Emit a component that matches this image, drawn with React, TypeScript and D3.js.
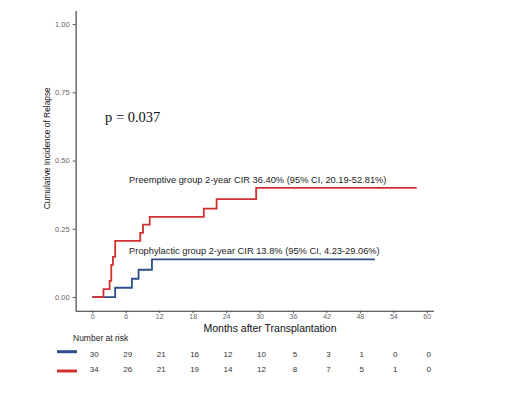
import React, { useEffect, useRef } from "react";
import * as d3 from "d3";

// step points: [months, cumulative incidence]
const preemptive: [number, number][] = [
  [0, 0], [2.0, 0.029], [3.1, 0.059], [3.4, 0.118], [3.7, 0.147], [4.1, 0.206],
  [8.6, 0.235], [9.1, 0.265], [10.3, 0.294], [20.0, 0.324], [22.3, 0.359],
  [29.4, 0.40], [58.2, 0.40],
];
const prophylactic: [number, number][] = [
  [0, 0], [4.1, 0.034], [7.1, 0.067], [8.3, 0.10], [10.7, 0.138], [50.7, 0.138],
];

const monthTicks = [0, 6, 12, 18, 24, 30, 36, 42, 48, 54, 60];
const yTicks = [0, 0.25, 0.5, 0.75, 1];
const riskProphylactic = [30, 29, 21, 16, 12, 10, 5, 3, 1, 0, 0];
const riskPreemptive = [34, 26, 21, 19, 14, 12, 8, 7, 5, 1, 0];

const RED = "#D2302F";
const BLUE = "#2B4F86";

const x = d3.scaleLinear().domain([-3, 61.2]).range([75.6, 433.4]);
const y = d3.scaleLinear().domain([-0.05, 1.05]).range([310.7, 10.4]);

const line = d3
  .line<[number, number]>()
  .x((d) => x(d[0]))
  .y((d) => y(d[1]))
  .curve(d3.curveStepAfter);

export default function App() {
  const xRef = useRef<SVGGElement | null>(null);
  const yRef = useRef<SVGGElement | null>(null);

  useEffect(() => {
    const xa = d3.select(xRef.current);
    xa.call(d3.axisBottom(x).tickValues(monthTicks).tickSize(2.5).tickPadding(0.5).tickSizeOuter(0));
    const ya = d3.select(yRef.current);
    ya.call(
      d3.axisLeft(y).tickValues(yTicks).tickFormat(d3.format(".2f")).tickSize(3).tickSizeOuter(0)
    );
    [xa, ya].forEach((g) => {
      g.selectAll("path.domain").attr("stroke", "#333").attr("stroke-width", 1.1);
      g.selectAll(".tick line").attr("stroke", "#555");
      g.selectAll(".tick text")
        .attr("fill", "#666")
        .style("font-family", "Liberation Sans, Arial, sans-serif")
        .style("font-size", "7.5px");
    });
    xa.selectAll(".tick text").style("font-size", "7px");
  }, []);

  const sans = "Liberation Sans, Arial, sans-serif";

  return (
    <svg
      width={522}
      height={404}
      style={{ position: "absolute", left: 0, top: 0, background: "#fff" }}
    >
      <g ref={xRef} transform={`translate(0,${y(-0.05)})`} />
      <g ref={yRef} transform={`translate(${x(-3)},0)`} />

      <path d={line(prophylactic) ?? ""} fill="none" stroke={BLUE} strokeWidth={1.8} />
      <path d={line(preemptive) ?? ""} fill="none" stroke={RED} strokeWidth={1.8} />

      <text
        transform={`translate(50,${y(0.545)}) rotate(-90)`}
        textAnchor="middle"
        fontFamily={sans}
        fontSize={9.5}
        textLength={122}
        lengthAdjust="spacingAndGlyphs"
        fill="#111"
      >
        Cumulative Incidence of Relapse
      </text>
      <text x={270} y={332} textAnchor="middle" fontFamily={sans} fontSize={10.5} fill="#111">
        Months after Transplantation
      </text>

      <text x={105} y={122} fontFamily="Liberation Serif, Times New Roman, serif" fontSize={14.5} fill="#111">
        p = 0.037
      </text>

      <text x={x(6.6)} y={y(0.43) + 3} fontFamily={sans} fontSize={9.3} fill="#222">
        Preemptive group 2-year CIR 36.40% (95% CI, 20.19-52.81%)
      </text>
      <text x={x(6.6)} y={y(0.17) + 3} fontFamily={sans} fontSize={9.3} fill="#222">
        Prophylactic group 2-year CIR 13.8% (95% CI, 4.23-29.06%)
      </text>

      <text x={73} y={341} fontFamily={sans} fontSize={8.5} fill="#222">
        Number at risk
      </text>
      <line x1={57} x2={77} y1={351.7} y2={351.7} stroke={BLUE} strokeWidth={3} />
      <line x1={57} x2={77} y1={371} y2={371} stroke={RED} strokeWidth={3} />
      {riskProphylactic.map((n, i) => (
        <text
          key={`b${i}`}
          x={x(monthTicks[i]) + 2}
          y={357}
          textAnchor="middle"
          fontFamily={sans}
          fontSize={8}
          fill="#333"
        >
          {n}
        </text>
      ))}
      {riskPreemptive.map((n, i) => (
        <text
          key={`r${i}`}
          x={x(monthTicks[i]) + 2}
          y={371.5}
          textAnchor="middle"
          fontFamily={sans}
          fontSize={8}
          fill="#333"
        >
          {n}
        </text>
      ))}
    </svg>
  );
}
